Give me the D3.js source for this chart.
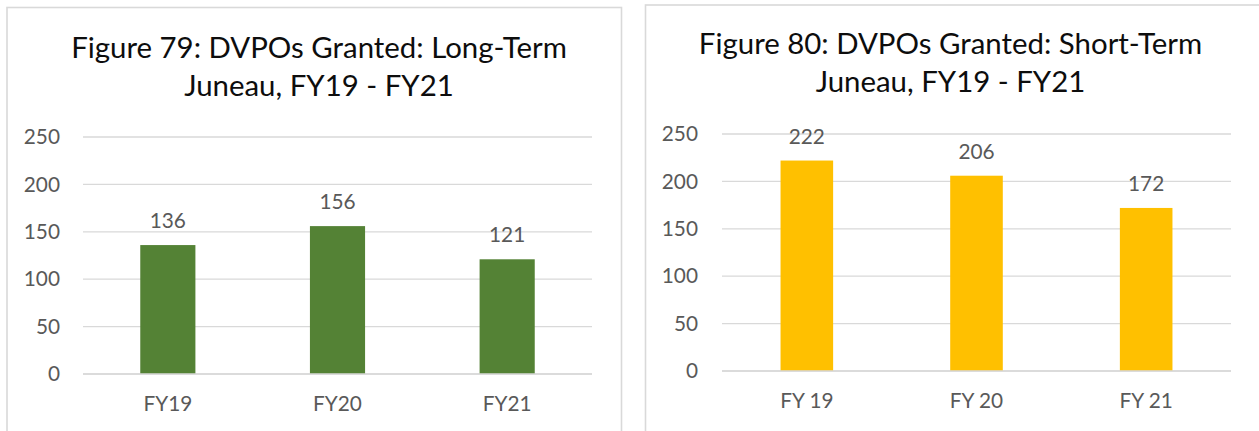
<!DOCTYPE html>
<html>
<head>
<meta charset="utf-8">
<script src="https://cdn.jsdelivr.net/npm/d3@7"></script>
<style>
  html, body { margin: 0; padding: 0; background: #fff; }
  svg { display: block; }
  text { font-family: Lato, "Open Sans", sans-serif; }
</style>
</head>
<body>
<svg id="chart" width="1259" height="431"></svg>
<script>
// Fiscal years and order counts for each figure
const longTermYears = ["FY19", "FY20", "FY21"];
const longTermCounts = [136, 156, 121];
const shortTermYears = ["FY 19", "FY 20", "FY 21"];
const shortTermCounts = [222, 206, 172];
const yTicks = [0, 50, 100, 150, 200, 250];
const longTermTitle = ["Figure 79: DVPOs Granted: Long-Term", "Juneau, FY19 - FY21"];
const shortTermTitle = ["Figure 80: DVPOs Granted: Short-Term", "Juneau, FY19 - FY21"];

const svg = d3.select("#chart");

const GRID = "#d9d9d9";
const TEXT = "#595959";
const LABEL_SIZE = 20.8;

function drawPanel(opts) {
  const g = svg.append("g");

  // panel frame
  g.append("rect")
    .attr("x", opts.frame.x).attr("y", opts.frame.y)
    .attr("width", opts.frame.w).attr("height", opts.frame.h)
    .attr("fill", "#fff").attr("stroke", GRID).attr("stroke-width", 1.6);

  // two-line title
  g.append("text")
    .attr("x", opts.titleX).attr("y", opts.titleY)
    .attr("text-anchor", "middle")
    .attr("font-size", 29.4)
    .attr("fill", "#0d0d0d")
    .selectAll("tspan").data(opts.title).join("tspan")
      .attr("x", opts.titleX)
      .attr("dy", (d, i) => i === 0 ? 0 : 38)
      .text(d => d);

  const x = d3.scaleBand().domain(opts.categories).range([opts.plot.left, opts.plot.right]).padding(0);
  const y = d3.scaleLinear().domain([0, 250]).range([opts.plot.bottom, opts.plot.top]);
  const barW = x.bandwidth() * opts.barFrac;

  // horizontal gridlines
  g.append("g").selectAll("line").data(yTicks).join("line")
    .attr("x1", opts.plot.left).attr("x2", opts.plot.right)
    .attr("y1", d => y(d)).attr("y2", d => y(d))
    .attr("stroke", GRID).attr("stroke-width", 1.3);

  // value axis labels
  const yAxis = d3.axisLeft(y).tickValues(yTicks).tickSize(0).tickPadding(0);
  const ya = g.append("g")
    .attr("transform", `translate(${opts.yLabelX},0)`)
    .call(yAxis);
  ya.select(".domain").remove();
  ya.selectAll("text").attr("font-size", LABEL_SIZE).attr("fill", TEXT)
    .attr("font-family", "Lato, sans-serif");

  // bars
  g.append("g").selectAll("rect").data(opts.values).join("rect")
    .attr("x", (d, i) => x(opts.categories[i]) + (x.bandwidth() - barW) / 2)
    .attr("width", barW)
    .attr("y", d => y(d))
    .attr("height", d => y(0) - y(d))
    .attr("fill", opts.color);

  // category axis line and labels
  g.append("line")
    .attr("x1", opts.plot.left).attr("x2", opts.plot.right)
    .attr("y1", y(0)).attr("y2", y(0))
    .attr("stroke", GRID).attr("stroke-width", 1.6);

  const xAxis = d3.axisBottom(x).tickSize(0).tickPadding(0);
  const xa = g.append("g")
    .attr("transform", `translate(0,${y(0) + 22})`)
    .call(xAxis);
  xa.select(".domain").remove();
  xa.selectAll("text").attr("font-size", LABEL_SIZE).attr("fill", TEXT)
    .attr("font-family", "Lato, sans-serif");

  // data labels above bars
  g.append("g").selectAll("text").data(opts.values).join("text")
    .attr("x", (d, i) => x(opts.categories[i]) + x.bandwidth() / 2)
    .attr("y", d => y(d) - 17)
    .attr("text-anchor", "middle")
    .attr("font-size", LABEL_SIZE)
    .attr("fill", TEXT)
    .text(d => d);
}

drawPanel({
  frame: { x: 7, y: 7.5, w: 614.5, h: 440 },
  title: longTermTitle, titleX: 319, titleY: 58,
  categories: longTermYears, values: longTermCounts, color: "#548235",
  plot: { left: 83, right: 592, top: 137, bottom: 374 },
  yLabelX: 60, barFrac: 0.325
});

drawPanel({
  frame: { x: 645.5, y: 5, w: 630, h: 440 },
  title: shortTermTitle, titleX: 950.5, titleY: 54,
  categories: shortTermYears, values: shortTermCounts, color: "#FFC000",
  plot: { left: 722, right: 1231, top: 134, bottom: 371 },
  yLabelX: 698, barFrac: 0.31
});
</script>
</body>
</html>
